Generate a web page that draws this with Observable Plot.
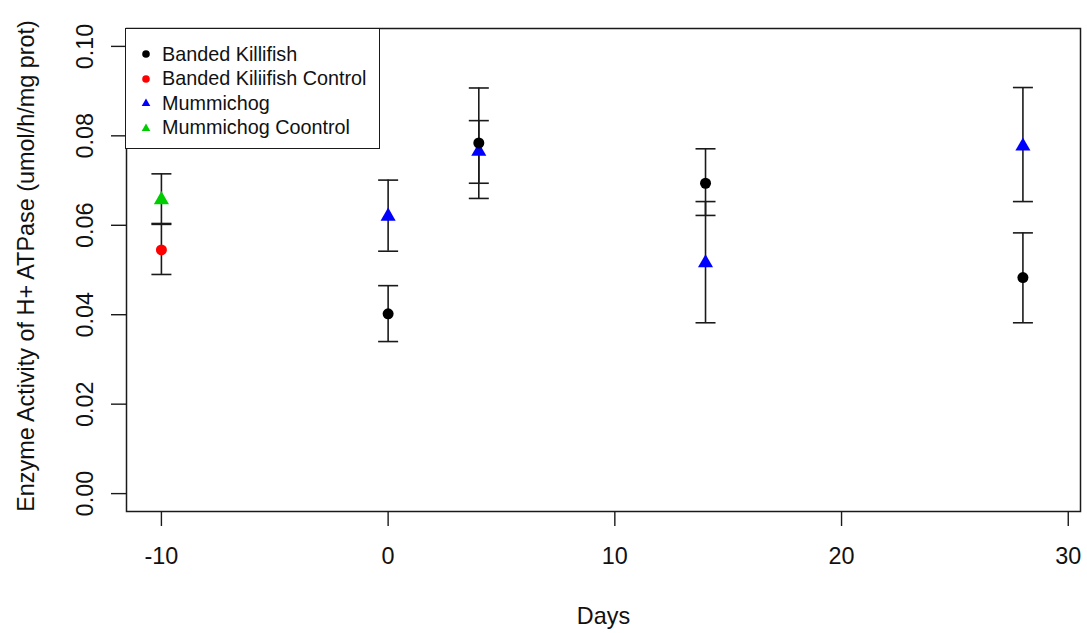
<!DOCTYPE html>
<html>
<head>
<meta charset="utf-8">
<script src="https://cdn.jsdelivr.net/npm/d3@7"></script>
<script src="https://cdn.jsdelivr.net/npm/@observablehq/plot@0.6"></script>
<style>
  body { margin: 0; background: #fff; }
  #wrap { position: relative; width: 1087px; height: 633px; font-family: "Liberation Sans", Arial, sans-serif; }
  #legend { position: absolute; left: 125px; top: 28px; width: 255px; height: 121px; border: 1.5px solid #1a1a1a; background: #fff; box-sizing: border-box; }
  .lrow { position: absolute; left: 0; height: 24px; display: flex; align-items: center; font-size: 19.8px; color: #111; white-space: nowrap; }
  .lrow svg { width: 36px; height: 24px; flex: none; }
</style>
</head>
<body>
<div id="wrap"><div id="legend"></div></div>
<script>
// ---- data ----
const seriesNames = ["Banded Killifish", "Banded Kiliifish Control", "Mummichog", "Mummichog Coontrol"];
const seriesColors = ["#000000", "#ff0000", "#0000ff", "#00cd00"];
const seriesShapes = ["circle", "circle", "triangle", "triangle"];

const killiDays = [0, 4, 14, 28];
const killiMean = [0.0402, 0.0784, 0.0694, 0.0483];
const killiLow  = [0.0340, 0.0660, 0.0622, 0.0382];
const killiHigh = [0.0465, 0.0907, 0.0771, 0.0583];

const mummiDays = [0, 4, 14, 28];
const mummiMean = [0.0620, 0.0765, 0.0516, 0.0777];
const mummiLow  = [0.0542, 0.0694, 0.0382, 0.0653];
const mummiHigh = [0.0701, 0.0834, 0.0653, 0.0908];

const controlDays = [-10];
const killiCtrlMean = [0.0545], killiCtrlLow = [0.0490], killiCtrlHigh = [0.0602];
const mummiCtrlMean = [0.0657], mummiCtrlLow = [0.0604], mummiCtrlHigh = [0.0715];

const xTicks = [-10, 0, 10, 20, 30];
const yTicks = [0.00, 0.02, 0.04, 0.06, 0.08, 0.10];
const xLabel = "Days";
const yLabel = "Enzyme Activity of H+ ATPase (umol/h/mg prot)";

// ---- build table ----
function rows(series, days, mean, low, high) {
  return days.map((d, i) => ({series, day: d, mean: mean[i], low: low[i], high: high[i]}));
}
const data = [
  ...rows(seriesNames[0], killiDays, killiMean, killiLow, killiHigh),
  ...rows(seriesNames[1], controlDays, killiCtrlMean, killiCtrlLow, killiCtrlHigh),
  ...rows(seriesNames[2], mummiDays, mummiMean, mummiLow, mummiHigh),
  ...rows(seriesNames[3], controlDays, mummiCtrlMean, mummiCtrlLow, mummiCtrlHigh)
];
const circles = data.filter(d => seriesShapes[seriesNames.indexOf(d.series)] === "circle");
const triangles = data.filter(d => seriesShapes[seriesNames.indexOf(d.series)] === "triangle");

const capSymbol = { draw(ctx) { ctx.moveTo(-10, 0); ctx.lineTo(10, 0); } };
const ink = "#1a1a1a";
const fs = 23.4;

const chart = Plot.plot({
  width: 1087,
  height: 633,
  marginLeft: 126,
  marginRight: 7,
  marginTop: 28,
  marginBottom: 122,
  style: { fontFamily: '"Liberation Sans", Arial, sans-serif', fontSize: fs + "px", color: ink, background: "#fff" },
  x: { domain: [-11.54, 30.54] },
  y: { domain: [-0.004, 0.104] },
  color: { domain: seriesNames, range: seriesColors },
  marks: [
    Plot.axisX(xTicks, { tickSize: 15, tickPadding: 21, strokeWidth: 1.4, fontSize: fs, label: null, fill: "#111", tickFormat: d => String(d) }),
    Plot.axisY(yTicks, { tickSize: 15, strokeWidth: 1.4, tickFormat: () => "", label: null }),
    Plot.text(yTicks, { y: d => d, text: d3.format(".2f"), frameAnchor: "left", dx: -34, rotate: -90, textAnchor: "middle", lineAnchor: "bottom", fontSize: fs, fill: "#111" }),
    Plot.text([xLabel], { text: d => d, frameAnchor: "bottom", dy: 105, lineAnchor: "middle", fontSize: fs, fill: "#111" }),
    Plot.text([yLabel], { text: d => d, frameAnchor: "left", dx: -93, dy: -4, rotate: -90, textAnchor: "middle", lineAnchor: "bottom", fontSize: fs, fill: "#111" }),
    Plot.ruleX(data, { x: "day", y1: "low", y2: "high", stroke: ink, strokeWidth: 1.6 }),
    Plot.dot(data, { x: "day", y: "low", symbol: capSymbol, fill: "none", stroke: ink, strokeWidth: 1.6 }),
    Plot.dot(data, { x: "day", y: "high", symbol: capSymbol, fill: "none", stroke: ink, strokeWidth: 1.6 }),
    Plot.dot(triangles, { x: "day", y: "mean", symbol: "triangle", r: 5.6, fill: "series", stroke: "none" }),
    Plot.dot(circles, { x: "day", y: "mean", symbol: "circle", r: 5.5, fill: "series", stroke: "none" }),
    Plot.frame({ stroke: ink, strokeWidth: 1.5 })
  ]
});
const wrap = document.getElementById("wrap");
wrap.insertBefore(chart, wrap.firstChild);

// ---- legend ----
const legend = document.getElementById("legend");
seriesNames.forEach((name, i) => {
  const row = document.createElement("div");
  row.className = "lrow";
  row.style.top = (13 + i * 24.5) + "px";
  const shape = seriesShapes[i] === "circle"
    ? `<circle cx="20" cy="12" r="3.8" fill="${seriesColors[i]}"/>`
    : `<path d="${d3.symbol(d3.symbolTriangle, 32)()}" transform="translate(20,12.5)" fill="${seriesColors[i]}"/>`;
  row.innerHTML = `<svg viewBox="0 0 36 24">${shape}</svg><span>${name}</span>`;
  legend.appendChild(row);
});
</script>
</body>
</html>
